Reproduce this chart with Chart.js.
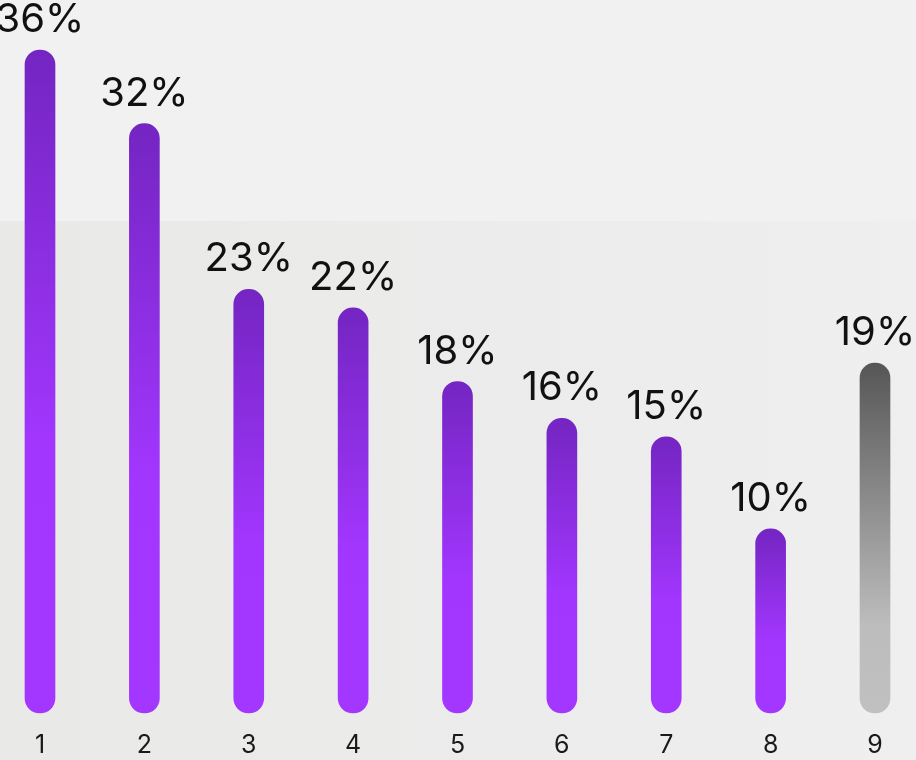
<!DOCTYPE html>
<html>
<head>
<meta charset="utf-8">
<title>Bar chart</title>
<script src="https://cdn.jsdelivr.net/npm/chart.js@4"></script>
<style>
    html, body { margin: 0; padding: 0; background: #f1f1f1; }
    #wrap { width: 916px; height: 760px; position: relative; }
</style>
</head>
<body>
<div id="wrap"><canvas id="barChart"></canvas></div>
<script>
// --- Data ---
const categories = ['1', '2', '3', '4', '5', '6', '7', '8', '9'];
const shares = [36, 32, 23, 22, 18, 16, 15, 10, 19];
const highlightIndex = 8; // last bar is drawn in grey

document.addEventListener('DOMContentLoaded', function() {
    const ctx = document.getElementById('barChart');

    // Background: light grey with a slightly darker lower band
    const backgroundPlugin = {
        id: 'bgFill',
        beforeDraw: chart => {
            const c = chart.ctx;
            c.save();
            c.fillStyle = '#f1f1f1';
            c.fillRect(0, 0, chart.width, chart.height);
            const g = c.createLinearGradient(0, 0, chart.width, 0);
            g.addColorStop(0, '#e9e9e7');
            g.addColorStop(0.6, '#ececec');
            g.addColorStop(1, '#efefef');
            c.fillStyle = g;
            c.fillRect(0, 221, chart.width, chart.height - 221);
            c.restore();
        }
    };

    // Percentage label above every bar
    const valueLabelPlugin = {
        id: 'valueLabels',
        afterDatasetsDraw: chart => {
            const meta = chart.getDatasetMeta(0);
            const c = chart.ctx;
            c.save();
            c.font = '40px Inter';
            c.fillStyle = '#111111';
            c.textAlign = 'center';
            c.textBaseline = 'alphabetic';
            meta.data.forEach((bar, i) => {
                const { x, y } = bar.getProps(['x', 'y'], true);
                c.fillText(shares[i] + '%', x, y - 18);
            });
            c.restore();
        }
    };

    // Vertical gradient for each bar, from its top down to the baseline
    function barFill(context) {
        const chart = context.chart;
        const area = chart.chartArea;
        const grey = context.dataIndex === highlightIndex;
        if (!area) return grey ? '#8a8a8a' : '#9433f0';
        const yScale = chart.scales.y;
        const top = yScale.getPixelForValue(shares[context.dataIndex]);
        const bottom = yScale.getPixelForValue(0);
        const g = chart.ctx.createLinearGradient(0, top, 0, bottom);
        if (grey) {
            g.addColorStop(0, '#565656');
            g.addColorStop(0.75, '#bdbdbd');
            g.addColorStop(1, '#c0c0c0');
        } else {
            g.addColorStop(0, '#7425c2');
            g.addColorStop(0.6, '#a236fe');
            g.addColorStop(1, '#a437ff');
        }
        return g;
    }

    new Chart(ctx, {
        type: 'bar',
        data: {
            labels: categories,
            datasets: [{
                data: shares,
                backgroundColor: barFill,
                borderRadius: 15,
                borderSkipped: false,
                barThickness: 30,
                clip: false
            }]
        },
        options: {
            responsive: true,
            maintainAspectRatio: false,
            animation: false,
            layout: {
                padding: { left: 40, right: 41, top: 50, bottom: 0 }
            },
            plugins: {
                legend: { display: false },
                tooltip: { enabled: false }
            },
            scales: {
                x: {
                    offset: false,
                    grid: { display: false, drawTicks: false },
                    border: { display: false },
                    afterFit: scale => { scale.height = 47; },
                    ticks: {
                        padding: 17,
                        color: '#1a1a1a',
                        font: { family: 'Inter', size: 25 },
                        maxRotation: 0
                    }
                },
                y: {
                    display: false,
                    min: 0,
                    max: 36
                }
            }
        },
        plugins: [backgroundPlugin, valueLabelPlugin]
    });
});
</script>
</body>
</html>
